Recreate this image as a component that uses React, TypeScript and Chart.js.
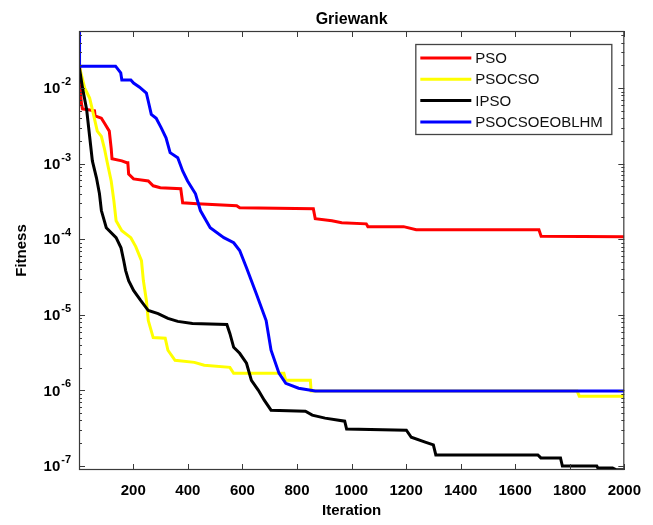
import React, { useEffect, useRef } from 'react';
import { Chart, registerables } from 'chart.js';

Chart.register(...registerables);

const TITLE = 'Griewank';
const X_TITLE = 'Iteration';
const Y_TITLE = 'Fitness';
const SERIES_NAMES = ['PSO', 'PSOCSO', 'IPSO', 'PSOCSOEOBLHM'];
const SERIES_COLORS = ['#ff0000', '#ffff00', '#000000', '#0000ff'];
const X_TICKS = [200, 400, 600, 800, 1000, 1200, 1400, 1600, 1800, 2000];
const X_MIN = 1;
const X_MAX = 2000;
const Y_MIN = 8.85e-8;
const Y_MAX = 0.057;

const PSO_X = [1, 4, 10, 14, 29, 58, 60, 83, 94, 112, 119, 122, 158, 176, 180, 183, 201, 255, 273, 299, 374, 381, 435, 579, 590, 860, 867, 928, 964, 1054, 1060, 1191, 1237, 1687, 1695, 2000];
const PSO_Y = [0.02, 0.0113, 0.0062, 0.0053, 0.0052, 0.005, 0.0043, 0.004, 0.00345, 0.0027, 0.0016, 0.00116, 0.00109, 0.00103, 0.00103, 0.00073, 0.00063, 0.00059, 0.00051, 0.00048, 0.000466, 0.000304, 0.000295, 0.000278, 0.000261, 0.000253, 0.000187, 0.000176, 0.000166, 0.00016, 0.000147, 0.000147, 0.000134, 0.000134, 0.00011, 0.000108];

const PSOCSO_X = [1, 22, 40, 50, 68, 83, 94, 104, 119, 129, 137, 158, 191, 209, 230, 237, 248, 255, 273, 317, 327, 353, 424, 460, 554, 568, 752, 759, 849, 852, 1827, 1835, 2000];
const PSOCSO_Y = [0.02, 0.01, 0.0074, 0.0052, 0.0027, 0.0023, 0.0016, 0.00106, 0.00059, 0.00032, 0.000176, 0.00013, 0.000105, 8.0e-5, 5.2e-5, 2.84e-5, 1.55e-5, 8.4e-6, 5.0e-6, 4.9e-6, 3.4e-6, 2.5e-6, 2.35e-6, 2.15e-6, 2.02e-6, 1.69e-6, 1.69e-6, 1.36e-6, 1.36e-6, 9.8e-7, 9.8e-7, 8.4e-7, 8.4e-7];

const IPSO_X = [1, 14, 29, 40, 50, 65, 76, 83, 101, 137, 155, 165, 172, 183, 201, 227, 255, 291, 327, 363, 417, 543, 554, 568, 590, 615, 633, 658, 680, 705, 831, 856, 903, 975, 982, 1201, 1219, 1270, 1300, 1309, 1683, 1694, 1766, 1773, 1899, 1903, 1957, 1971, 2000];
const IPSO_Y = [0.02, 0.01, 0.0052, 0.00229, 0.00109, 0.00065, 0.0004, 0.00024, 0.000142, 0.000105, 7.7e-5, 5.2e-5, 3.85e-5, 2.84e-5, 2.1e-5, 1.55e-5, 1.14e-5, 1.04e-5, 8.97e-6, 8.19e-6, 7.7e-6, 7.47e-6, 5.68e-6, 3.72e-6, 3.1e-6, 2.29e-6, 1.36e-6, 1.01e-6, 7.43e-7, 5.48e-7, 5.32e-7, 4.71e-7, 4.3e-7, 3.92e-7, 3.08e-7, 2.98e-7, 2.4e-7, 2.07e-7, 1.9e-7, 1.4e-7, 1.4e-7, 1.28e-7, 1.28e-7, 1.0e-7, 1.0e-7, 9.4e-8, 9.4e-8, 8.9e-8, 8.9e-8];

const HYB_X = [1, 3, 135, 154, 158, 191, 201, 223, 248, 255, 266, 284, 302, 320, 335, 363, 381, 399, 428, 446, 482, 532, 568, 590, 615, 651, 687, 705, 734, 759, 806, 867, 2000];
const HYB_Y = [0.06, 0.0195, 0.0195, 0.0159, 0.0128, 0.0128, 0.01165, 0.0103, 0.0086, 0.0067, 0.0045, 0.004, 0.003, 0.0022, 0.0014, 0.0012, 0.0008, 0.00059, 0.0004, 0.00024, 0.000142, 0.000105, 9.0e-5, 7.1e-5, 4.2e-5, 1.9e-5, 8.4e-6, 3.4e-6, 1.69e-6, 1.24e-6, 1.07e-6, 9.8e-7, 9.8e-7];

const SERIES_X = [PSO_X, PSOCSO_X, IPSO_X, HYB_X];
const SERIES_Y = [PSO_Y, PSOCSO_Y, IPSO_Y, HYB_Y];

const FONT = "'Liberation Sans', Arial, sans-serif";

const isDecade = (v: number) => Math.abs(Math.log10(v) - Math.round(Math.log10(v))) < 1e-9;

const matlabPlugin = {
  id: 'matlabFrame',
  afterDatasetsDraw(chart: any) {
    const { ctx, chartArea: a, scales } = chart;
    const xs = scales.x;
    const ys = scales.y;
    ctx.save();
    ctx.strokeStyle = '#3a3a3a';
    ctx.lineWidth = 1;
    ctx.beginPath();
    xs.ticks.forEach((t: any) => {
      const px = Math.round(xs.getPixelForValue(t.value)) + 0.5;
      ctx.moveTo(px, a.bottom);
      ctx.lineTo(px, a.bottom - 6);
      ctx.moveTo(px, a.top);
      ctx.lineTo(px, a.top + 6);
    });
    ys.ticks.forEach((t: any) => {
      const py = Math.round(ys.getPixelForValue(t.value)) + 0.5;
      const len = isDecade(t.value) ? 6 : 3;
      ctx.moveTo(a.left, py);
      ctx.lineTo(a.left + len, py);
      ctx.moveTo(a.right, py);
      ctx.lineTo(a.right - len, py);
    });
    ctx.stroke();
    ctx.lineWidth = 1.2;
    ctx.strokeRect(a.left + 0.5, a.top + 0.5, a.width - 1, a.height - 1);

    // y tick labels: 10 with superscript exponent
    ctx.fillStyle = '#000';
    ys.ticks.forEach((t: any) => {
      if (!isDecade(t.value)) return;
      const py = ys.getPixelForValue(t.value);
      const exp = String(Math.round(Math.log10(t.value)));
      ctx.font = `bold 11px ${FONT}`;
      const sw = ctx.measureText(exp).width;
      const xEnd = a.left - 8;
      ctx.textAlign = 'left';
      ctx.textBaseline = 'middle';
      ctx.fillText(exp, xEnd - sw, py - 6);
      ctx.font = `bold 15px ${FONT}`;
      ctx.textAlign = 'right';
      ctx.fillText('10', xEnd - sw - 1, py + 1);
    });

    // title
    ctx.fillStyle = '#000';
    ctx.font = `bold 16px ${FONT}`;
    ctx.textAlign = 'center';
    ctx.textBaseline = 'middle';
    ctx.fillText(TITLE, (a.left + a.right) / 2, 20);

    // legend
    const ds = chart.data.datasets;
    const bw = 196;
    const bh = 90;
    const bx = a.right - 13 - bw;
    const by = a.top + 13;
    ctx.fillStyle = '#fff';
    ctx.fillRect(bx, by, bw, bh);
    ctx.strokeStyle = '#444';
    ctx.lineWidth = 1.3;
    ctx.strokeRect(bx + 0.5, by + 0.5, bw, bh);
    ctx.font = `15px ${FONT}`;
    ctx.textAlign = 'left';
    ctx.textBaseline = 'middle';
    ds.forEach((d: any, i: number) => {
      const ry = by + 14 + i * 21.3;
      ctx.strokeStyle = d.borderColor;
      ctx.lineWidth = 3;
      ctx.beginPath();
      ctx.moveTo(bx + 5, ry);
      ctx.lineTo(bx + 56, ry);
      ctx.stroke();
      ctx.fillStyle = '#111';
      ctx.fillText(d.label, bx + 60, ry + 1);
    });
    ctx.restore();
  },
};

export default function App() {
  const ref = useRef<HTMLCanvasElement>(null);
  useEffect(() => {
    if (!ref.current) return;
    const datasets = SERIES_NAMES.map((name, i) => ({
      label: name,
      data: SERIES_X[i].map((x, j) => ({ x, y: SERIES_Y[i][j] })),
      borderColor: SERIES_COLORS[i],
      backgroundColor: SERIES_COLORS[i],
      borderWidth: 3,
      pointRadius: 0,
      tension: 0,
      fill: false,
      order: SERIES_NAMES.length - i,
    }));
    const chart = new Chart(ref.current, {
      type: 'line',
      data: { datasets },
      plugins: [matlabPlugin],
      options: {
        animation: false,
        responsive: false,
        devicePixelRatio: 1,
        layout: { padding: { top: 31, right: 18, left: 0, bottom: 0 } },
        plugins: { legend: { display: false }, title: { display: false }, tooltip: { enabled: false } },
        scales: {
          x: {
            type: 'linear',
            min: X_MIN,
            max: X_MAX,
            afterBuildTicks: (s: any) => {
              s.ticks = X_TICKS.map((v) => ({ value: v }));
            },
            afterFit: (s: any) => {
              s.height = 55;
            },
            grid: { display: false, drawTicks: false },
            border: { display: false },
            ticks: {
              autoSkip: false,
              maxRotation: 0,
              padding: 12,
              color: '#000',
              font: { family: FONT, size: 15, weight: 'bold' },
              callback: (v: any) => String(v),
            },
            title: {
              display: true,
              text: X_TITLE,
              color: '#000',
              font: { family: FONT, size: 15, weight: 'bold' },
              padding: { top: 0, bottom: 5 },
            },
          },
          y: {
            type: 'logarithmic',
            min: Y_MIN,
            max: Y_MAX,
            afterBuildTicks: (s: any) => {
              const t: any[] = [];
              for (let e = -8; e <= -1; e++) {
                for (let m = 1; m <= 9; m++) {
                  const v = m * Math.pow(10, e);
                  if (v >= Y_MIN && v <= Y_MAX) t.push({ value: v, major: m === 1 });
                }
              }
              s.ticks = t;
            },
            afterFit: (s: any) => {
              s.width = 79;
            },
            grid: { display: false, drawTicks: false },
            border: { display: false },
            ticks: {
              display: false,
              autoSkip: false,
            },
            title: {
              display: true,
              text: Y_TITLE,
              color: '#000',
              font: { family: FONT, size: 15, weight: 'bold' },
              padding: { top: 13, bottom: 0 },
            },
          },
        },
      },
    });
    return () => chart.destroy();
  }, []);
  return (
    <div style={{ position: 'absolute', left: 0, top: 0, width: 653, height: 525, background: '#fff' }}>
      <canvas ref={ref} width={653} height={525} style={{ display: 'block' }} />
    </div>
  );
}
